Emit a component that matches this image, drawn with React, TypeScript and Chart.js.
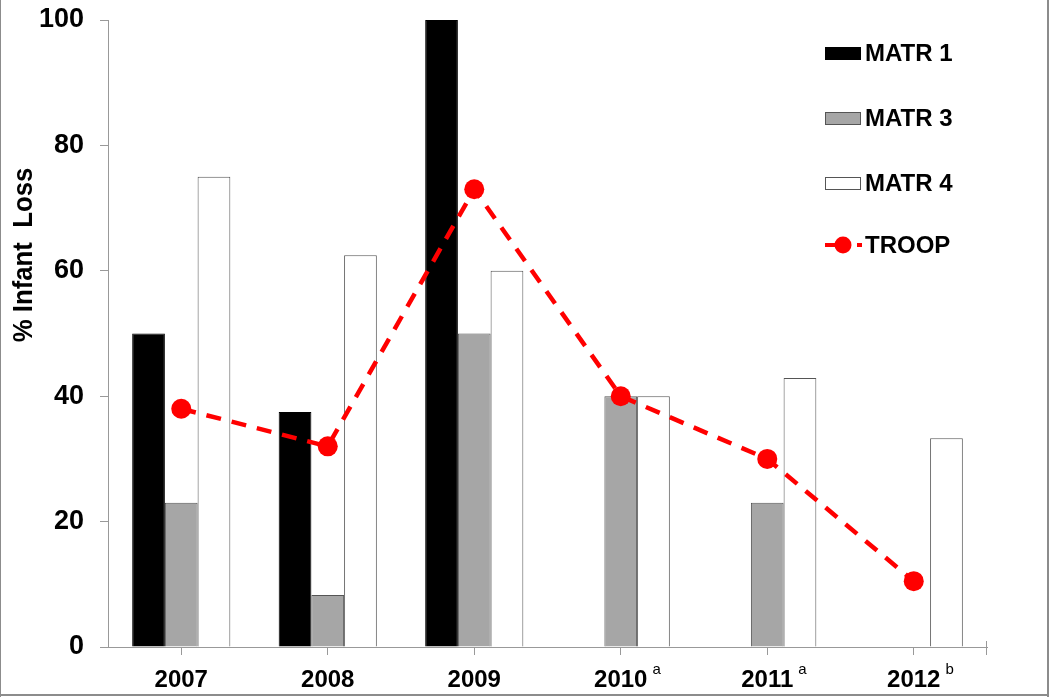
import React, { useEffect, useRef } from "react";
import { Chart, registerables } from "chart.js";

Chart.register(...registerables);

const years = ["2007", "2008", "2009", "2010", "2011", "2012"];
const yearNotes = ["", "", "", "a", "a", "b"];
const matr1 = [50, 37.5, 100, null, null, null];
const matr3 = [23, 8.3, 50, 40, 23, null];
const matr4 = [75, 62.5, 60, 40, 42.9, 33.3];
const troop = [38, 32, 73, 40, 30, 10.5];
const yTicks = [0, 20, 40, 60, 80, 100];
const yTitle = "% Infant  Loss";

const FONT = '"Liberation Sans", Arial, sans-serif';

const customPlugin = {
  id: "custom",
  afterDraw(chart: any) {
    const ctx = chart.ctx as CanvasRenderingContext2D;
    const x = chart.scales.x;
    const area = chart.chartArea;
    ctx.save();

    // frame
    ctx.fillStyle = "#8c8c8c";
    ctx.fillRect(0, 0, 1, chart.height);
    ctx.fillRect(chart.width - 3, 0, 2, chart.height);
    ctx.fillRect(0, chart.height - 3, chart.width - 1, 2);

    // end tick of x axis
    ctx.fillStyle = "#999999";
    ctx.fillRect(Math.round(area.right) - 1, area.bottom - 6, 1, 14);

    // x labels
    ctx.fillStyle = "#000";
    ctx.textBaseline = "alphabetic";
    years.forEach((yr, i) => {
      const cx = x.getPixelForValue(i);
      ctx.font = `bold 24px ${FONT}`;
      ctx.textAlign = "center";
      ctx.fillText(yr, cx, 687);
      const w = ctx.measureText(yr).width;
      if (yearNotes[i]) {
        ctx.font = `15px ${FONT}`;
        ctx.textAlign = "left";
        ctx.fillText(yearNotes[i], cx + w / 2 + 5, 674);
      }
    });

    // y title
    ctx.save();
    ctx.translate(24, 255);
    ctx.rotate(-Math.PI / 2);
    ctx.font = `bold 28px ${FONT}`;
    ctx.textAlign = "center";
    ctx.textBaseline = "middle";
    ctx.scale(0.92, 1);
    ctx.fillText(yTitle, 0, 0);
    ctx.restore();

    // legend
    const ds = chart.data.datasets;
    const rows = [53, 118, 183, 245];
    const bx = 825;
    const bw = 36;
    ctx.textAlign = "left";
    ctx.textBaseline = "middle";
    ctx.font = `bold 24px ${FONT}`;
    ds.forEach((d: any, i: number) => {
      const cy = rows[i];
      if (d.type === "line") {
        ctx.strokeStyle = d.borderColor;
        ctx.lineWidth = 4;
        ctx.beginPath();
        ctx.moveTo(bx, cy);
        ctx.lineTo(bx + 14, cy);
        ctx.moveTo(bx + 32, cy);
        ctx.lineTo(bx + 37, cy);
        ctx.stroke();
        ctx.fillStyle = d.pointBackgroundColor;
        ctx.beginPath();
        ctx.arc(bx + 18, cy, 8.5, 0, Math.PI * 2);
        ctx.fill();
      } else {
        ctx.fillStyle = d.backgroundColor;
        ctx.fillRect(bx, cy - 6, bw, 13);
        ctx.strokeStyle = d.borderColor;
        ctx.lineWidth = 1;
        ctx.strokeRect(bx + 0.5, cy - 5.5, bw - 1, 12);
      }
      ctx.fillStyle = "#000";
      ctx.fillText(d.label, 865, cy + 1);
    });

    ctx.restore();
  },
};

export default function App() {
  const ref = useRef<HTMLCanvasElement | null>(null);

  useEffect(() => {
    document.body.style.margin = "0";
    const canvas = ref.current;
    if (!canvas) return;
    const chart = new Chart(canvas, {
      type: "bar",
      data: {
        labels: years,
        datasets: [
          {
            label: "MATR 1",
            data: matr1,
            backgroundColor: "#000000",
            borderColor: "#000000",
            borderWidth: 1,
            categoryPercentage: 0.67,
            barPercentage: 1,
          },
          {
            label: "MATR 3",
            data: matr3,
            backgroundColor: "#a6a6a6",
            borderColor: "#555555",
            borderWidth: 1,
            categoryPercentage: 0.67,
            barPercentage: 1,
          },
          {
            label: "MATR 4",
            data: matr4,
            backgroundColor: "#ffffff",
            borderColor: "#555555",
            borderWidth: 1,
            categoryPercentage: 0.67,
            barPercentage: 1,
          },
          {
            type: "line",
            label: "TROOP",
            data: troop,
            borderColor: "#ff0000",
            borderWidth: 4.5,
            borderDash: [15, 11],
            pointRadius: 10,
            pointBackgroundColor: "#ff0000",
            pointBorderWidth: 0,
            fill: false,
            order: -1,
          } as any,
        ],
      },
      options: {
        animation: false,
        responsive: false,
        devicePixelRatio: 1,
        layout: { autoPadding: false, padding: { top: 20, right: 63, left: 0, bottom: 0 } },
        plugins: {
          legend: { display: false },
          tooltip: { enabled: false },
        },
        scales: {
          x: {
            afterFit: (s: any) => {
              s.height = 50;
            },
            ticks: { display: false },
            grid: {
              display: true,
              drawOnChartArea: false,
              drawTicks: true,
              tickLength: 8,
              offset: false,
              color: "#999999",
            },
            border: { display: true, color: "#999999", width: 1 },
          },
          y: {
            min: 0,
            max: 100,
            afterFit: (s: any) => {
              s.width = 108;
              s.paddingTop = 0;
              s.paddingBottom = 0;
            },
            afterBuildTicks: (s: any) => {
              s.ticks = yTicks.map((v) => ({ value: v }));
            },
            ticks: {
              font: { family: FONT, size: 27, weight: "bold" },
              color: "#000",
              padding: 16,
            },
            grid: {
              display: true,
              drawOnChartArea: false,
              drawTicks: true,
              tickLength: 8,
              color: "#999999",
            },
            border: { display: true, color: "#999999", width: 1 },
          },
        },
      },
      plugins: [customPlugin],
    });
    return () => chart.destroy();
  }, []);

  return (
    <div>
      <canvas ref={ref} width={1050} height={697} style={{ display: "block" }} />
    </div>
  );
}
